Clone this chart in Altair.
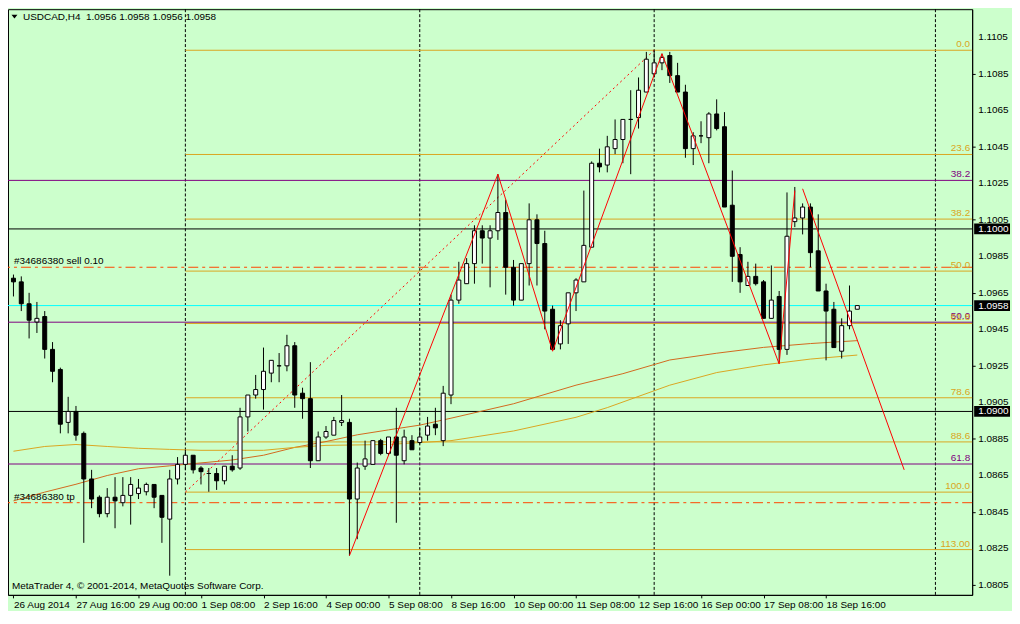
import json
import altair as alt
import pandas as pd

# ---------------- data ----------------
opens = [1.0973, 1.0971, 1.0959, 1.0949, 1.0952, 1.0934, 1.0923, 1.0894, 1.0900, 1.0888,
         1.0863, 1.0853, 1.0844, 1.0853, 1.0850, 1.0854, 1.0855, 1.0856, 1.0860, 1.0854,
         1.0841, 1.0863, 1.0871, 1.0876, 1.0869, 1.0866, 1.0866, 1.0862, 1.0870, 1.0869,
         1.0897, 1.0909, 1.0912, 1.0921, 1.0925, 1.0925, 1.0936, 1.0910, 1.0907, 1.0873,
         1.0886, 1.0887, 1.0894, 1.0894, 1.0852, 1.0870, 1.0871, 1.0884, 1.0877, 1.0886,
         1.0873, 1.0884, 1.0883, 1.0887, 1.0893, 1.0884, 1.0909, 1.0961, 1.0970, 1.0981,
         1.0999, 1.0995, 1.0999, 1.1009, 1.0979, 1.0961, 1.0981, 1.1005, 1.0992, 1.0956,
         1.0937, 1.0948, 1.0965, 1.0971, 1.0990, 1.1036, 1.1035, 1.1044, 1.1049, 1.1060,
         1.1061, 1.1075, 1.1085, 1.1091, 1.1095, 1.1084, 1.1075, 1.1044, 1.1051, 1.1050,
         1.1063, 1.1056, 1.1013, 1.0986, 1.0969, 1.0974, 1.0971, 1.0951, 1.0963, 1.0934,
         1.1004, 1.1006, 1.1012, 1.0988, 1.0966, 1.0956, 1.0933, 1.0947, 1.0956]
highs = [1.0975, 1.0974, 1.0965, 1.0960, 1.0955, 1.0938, 1.0924, 1.0908, 1.0903, 1.0889,
         1.0868, 1.0854, 1.0858, 1.0864, 1.0864, 1.0864, 1.0863, 1.0861, 1.0860, 1.0854,
         1.0868, 1.0875, 1.0879, 1.0876, 1.0870, 1.0869, 1.0869, 1.0870, 1.0876, 1.0902,
         1.0909, 1.0920, 1.0935, 1.0928, 1.0932, 1.0942, 1.0938, 1.0913, 1.0927, 1.0889,
         1.0892, 1.0897, 1.0909, 1.0896, 1.0872, 1.0884, 1.0884, 1.0885, 1.0886, 1.0902,
         1.0890, 1.0887, 1.0891, 1.0897, 1.0902, 1.0914, 1.0964, 1.0982, 1.0984, 1.1002,
         1.1002, 1.1002, 1.1030, 1.1016, 1.0983, 1.0981, 1.1014, 1.1008, 1.0999, 1.0958,
         1.0950, 1.0965, 1.0973, 1.1021, 1.1037, 1.1044, 1.1051, 1.1060, 1.1060, 1.1076,
         1.1083, 1.1097, 1.1098, 1.1096, 1.1097, 1.1091, 1.1079, 1.1053, 1.1059, 1.1064,
         1.1071, 1.1064, 1.1032, 1.0990, 1.0982, 1.0981, 1.0972, 1.0980, 1.0966, 1.1020,
         1.1023, 1.1014, 1.1014, 1.1008, 1.0970, 1.0960, 1.0951, 1.0969, 1.0958]
lows = [1.0963, 1.0955, 1.0940, 1.0943, 1.0929, 1.0916, 1.0888, 1.0888, 1.0884, 1.0828,
        1.0847, 1.0842, 1.0842, 1.0836, 1.0848, 1.0838, 1.0852, 1.0854, 1.0847, 1.0828,
        1.0810, 1.0860, 1.0868, 1.0866, 1.0860, 1.0856, 1.0857, 1.0860, 1.0867, 1.0868,
        1.0889, 1.0907, 1.0901, 1.0916, 1.0916, 1.0922, 1.0902, 1.0896, 1.0869, 1.0873,
        1.0885, 1.0887, 1.0892, 1.0821, 1.0830, 1.0868, 1.0871, 1.0876, 1.0876, 1.0839,
        1.0871, 1.0879, 1.0882, 1.0884, 1.0887, 1.0881, 1.0904, 1.0959, 1.0970, 1.0970,
        1.0981, 1.0968, 1.0994, 1.0964, 1.0958, 1.0961, 1.0969, 1.0969, 1.0945, 1.0934,
        1.0934, 1.0937, 1.0955, 1.0971, 1.0990, 1.1031, 1.1031, 1.1041, 1.1036, 1.1030,
        1.1055, 1.1075, 1.1083, 1.1087, 1.1080, 1.1075, 1.1039, 1.1035, 1.1047, 1.1036,
        1.1054, 1.1012, 1.0971, 1.0965, 1.0969, 1.0969, 1.0951, 1.0951, 1.0927, 1.0931,
        1.1001, 1.0997, 1.0979, 1.0966, 1.0928, 1.0935, 1.0929, 1.0945, 1.0956]
closes = [1.0971, 1.0959, 1.0950, 1.0951, 1.0934, 1.0922, 1.0893, 1.0900, 1.0887, 1.0863,
          1.0852, 1.0844, 1.0853, 1.0851, 1.0854, 1.0860, 1.0858, 1.0860, 1.0853, 1.0842,
          1.0863, 1.0871, 1.0876, 1.0868, 1.0867, 1.0866, 1.0862, 1.0870, 1.0868, 1.0897,
          1.0909, 1.0912, 1.0922, 1.0928, 1.0925, 1.0936, 1.0909, 1.0907, 1.0873, 1.0886,
          1.0889, 1.0895, 1.0895, 1.0852, 1.0869, 1.0874, 1.0884, 1.0877, 1.0886, 1.0876,
          1.0886, 1.0879, 1.0886, 1.0892, 1.0891, 1.0910, 1.0961, 1.0972, 1.0981, 1.0999,
          1.0995, 1.0999, 1.1009, 1.0979, 1.0961, 1.0981, 1.1005, 1.0992, 1.0955, 1.0934,
          1.0947, 1.0965, 1.0972, 1.0991, 1.1036, 1.1034, 1.1045, 1.1049, 1.1060, 1.1060,
          1.1076, 1.1093, 1.1091, 1.1094, 1.1084, 1.1075, 1.1044, 1.1051, 1.1051, 1.1063,
          1.1055, 1.1012, 1.0985, 1.0971, 1.0974, 1.0970, 1.0951, 1.0961, 1.0934, 1.0996,
          1.1006, 1.1012, 1.0987, 1.0966, 1.0955, 1.0935, 1.0947, 1.0955, 1.0958]

x_tick_bars = [0, 8, 16, 24, 32, 40, 48, 56, 64, 72, 80, 88, 96, 104]
x_tick_labels = ["26 Aug 2014", "27 Aug 16:00", "29 Aug 00:00", "1 Sep 08:00", "2 Sep 16:00",
                 "4 Sep 00:00", "5 Sep 08:00", "8 Sep 16:00", "10 Sep 00:00", "11 Sep 08:00",
                 "12 Sep 16:00", "16 Sep 00:00", "17 Sep 08:00", "18 Sep 16:00"]
y_tick_values = [1.0805, 1.0825, 1.0845, 1.0865, 1.0885, 1.0905, 1.0925, 1.0945,
                 1.0965, 1.0985, 1.1005, 1.1025, 1.1045, 1.1065, 1.1085, 1.1105]
y_tick_labels = ["1.0805", "1.0825", "1.0845", "1.0865", "1.0885", "1.0905", "1.0925", "1.0945",
                 "1.0965", "1.0985", "1.1005", "1.1025", "1.1045", "1.1065", "1.1085", "1.1105"]

week_separator_bars = [22, 52, 82, 118]

ma_fast_bars = [0, 4, 8, 12, 16, 20, 24, 28, 32, 36, 40, 44, 48, 52, 56, 64, 72, 78, 84, 90, 96, 102, 108]
ma_fast_vals = [1.08510, 1.08558, 1.08601, 1.08649, 1.08686, 1.08702, 1.08718, 1.08734, 1.08760,
                1.08803, 1.08835, 1.08872, 1.08899, 1.08925, 1.08963, 1.09042, 1.09144, 1.09207,
                1.09282, 1.09319, 1.09351, 1.09372, 1.09388]
ma_slow_bars = [0, 4, 8, 12, 16, 20, 24, 32, 36, 40, 48, 56, 64, 72, 76, 84, 90, 96, 102, 108]
ma_slow_vals = [1.08782, 1.08808, 1.08819, 1.08808, 1.08798, 1.08792, 1.08787, 1.08787, 1.08803,
                1.08814, 1.08819, 1.08840, 1.08893, 1.08968, 1.09021, 1.09144, 1.09213, 1.09255,
                1.09287, 1.09309]

zigzag_bars = [43, 62, 69, 83, 98, 100]
zigzag_vals = [1.0821, 1.1030, 1.0933, 1.1096, 1.0926, 1.1021]
trend_bars = [101, 114]
trend_vals = [1.1022, 1.0868]
fibo_diag_bars = [22, 82]
fibo_diag_vals = [1.08558, 1.10979]

fibo_orange_levels = ["0.0", "23.6", "38.2", "50.0", "61.8", "78.6", "88.6", "100.0", "113.00"]
fibo_orange_prices = [1.10979, 1.10408, 1.10054, 1.09769, 1.09482, 1.09075, 1.08833, 1.08558, 1.08243]
fibo_purple_levels = ["38.2", "50.0", "61.8"]
fibo_purple_prices = [1.10266, 1.09489, 1.08712]

order_labels = ["#34686380 sell 0.10", "#34686380 tp"]
order_prices = [1.0979, 1.0850]
black_levels = [1.1000, 1.0900]
bid_price = [1.0958]
box_prices = [1.1000, 1.0958, 1.0900]
box_labels = ["1.1000", "1.0958", "1.0900"]

title_text = "USDCAD,H4\u00a0 1.0956 1.0958 1.0956 1.0958"
copyright_text = "MetaTrader 4, \u00a9 2001-2014, MetaQuotes Software Corp."

# ---------------- chart ----------------
FONT = "Liberation Sans"
W, H = 968, 588
BG = "#CCFFCC"
ORANGE = "#DAA520"
PURPLE = "#800080"
RED = "#FF0000"
ORDER_RED = "#FF4500"

xs = alt.Scale(domain=[-0.0625, 122.0625], nice=False, zero=False)
ys = alt.Scale(domain=[1.07995, 1.11204], nice=False, zero=False)

label_expr = json.dumps(x_tick_labels) + "[round(datum.value / 8)]"
x_axis = alt.Axis(values=x_tick_bars, labelExpr=label_expr, tickSize=3, tickColor="black",
                  domainColor="black", labelColor="black", labelFont=FONT, labelFontSize=10,
                  labelAlign="left", labelPadding=2, labelBaseline="top",
                  labelOverlap=False, labelFlush=False, grid=False, title=None)
# ticks of the price axis come from the axis; its labels are drawn as a text layer below
y_axis = alt.Axis(orient="right", values=y_tick_values, tickSize=3, tickColor="black",
                  domainColor="black", labels=False, grid=False, title=None)

df = pd.DataFrame({"bar": list(range(len(opens))), "open": opens, "high": highs,
                   "low": lows, "close": closes})
df["top"] = df[["open", "close"]].max(axis=1)
df["bot"] = df[["open", "close"]].min(axis=1)
df["dir"] = ["up" if c > o else ("down" if c < o else "doji") for o, c in zip(opens, closes)]

one = pd.DataFrame({"k": [0]})

base_rule = alt.Chart(pd.DataFrame({"bar": week_separator_bars})).mark_rule(
    color="black", strokeWidth=1, strokeDash=[3, 2]
).encode(x=alt.X("bar:Q", scale=xs, axis=x_axis))

purple_df = pd.DataFrame({"price": fibo_purple_prices, "label": fibo_purple_levels})
purple_lines = alt.Chart(purple_df).mark_rule(color=PURPLE, strokeWidth=1).encode(
    y=alt.Y("price:Q", scale=ys, axis=y_axis))
purple_text = alt.Chart(purple_df).mark_text(
    color=PURPLE, font=FONT, fontSize=10, align="right", baseline="alphabetic", dy=-3
).encode(x=alt.value(W - 2), y=alt.Y("price:Q", scale=ys), text="label:N")

orange_df = pd.DataFrame({"price": fibo_orange_prices, "label": fibo_orange_levels,
                          "start": [fibo_diag_bars[0]] * len(fibo_orange_prices)})
orange_lines = alt.Chart(orange_df).mark_rule(color=ORANGE, strokeWidth=1).encode(
    x=alt.X("start:Q", scale=xs), x2=alt.value(W), y=alt.Y("price:Q", scale=ys))
orange_text = alt.Chart(orange_df).mark_text(
    color=ORANGE, font=FONT, fontSize=10, align="right", baseline="alphabetic", dy=-3
).encode(x=alt.value(W - 2), y=alt.Y("price:Q", scale=ys), text="label:N")

black_lines = alt.Chart(pd.DataFrame({"price": black_levels})).mark_rule(
    color="black", strokeWidth=1).encode(y=alt.Y("price:Q", scale=ys))
bid_line = alt.Chart(pd.DataFrame({"price": bid_price})).mark_rule(
    color="#00FFFF", strokeWidth=1).encode(y=alt.Y("price:Q", scale=ys))

order_df = pd.DataFrame({"price": order_prices, "label": order_labels})
order_lines = alt.Chart(order_df).mark_rule(
    color=ORDER_RED, strokeWidth=1, strokeDash=[10, 4, 3, 4]).encode(y=alt.Y("price:Q", scale=ys))
order_text = alt.Chart(order_df).mark_text(
    color="black", font=FONT, fontSize=10, align="left", baseline="alphabetic", dy=-3
).encode(x=alt.value(6), y=alt.Y("price:Q", scale=ys), text="label:N")

fibo_diag = alt.Chart(pd.DataFrame({"bar": fibo_diag_bars, "price": fibo_diag_vals})).mark_line(
    color=RED, strokeWidth=1, strokeDash=[2, 3]).encode(
    x=alt.X("bar:Q", scale=xs), y=alt.Y("price:Q", scale=ys))

ma_fast = alt.Chart(pd.DataFrame({"bar": ma_fast_bars, "price": ma_fast_vals})).mark_line(
    color="#D2691E", strokeWidth=1, clip=True).encode(
    x=alt.X("bar:Q", scale=xs), y=alt.Y("price:Q", scale=ys))
ma_slow = alt.Chart(pd.DataFrame({"bar": ma_slow_bars, "price": ma_slow_vals})).mark_line(
    color=ORANGE, strokeWidth=1, clip=True).encode(
    x=alt.X("bar:Q", scale=xs), y=alt.Y("price:Q", scale=ys))

wicks = alt.Chart(df).mark_rule(color="black", strokeWidth=1, clip=True).encode(
    x=alt.X("bar:Q", scale=xs), y=alt.Y("low:Q", scale=ys), y2="high:Q")
bodies = alt.Chart(df).mark_bar(size=4, stroke="black", strokeWidth=1, clip=True).encode(
    x=alt.X("bar:Q", scale=xs), y=alt.Y("bot:Q", scale=ys), y2="top:Q",
    fill=alt.Fill("dir:N", scale=alt.Scale(domain=["up", "down", "doji"],
                                           range=["white", "black", "black"]), legend=None))

zigzag = alt.Chart(pd.DataFrame({"bar": zigzag_bars, "price": zigzag_vals})).mark_line(
    color=RED, strokeWidth=1).encode(x=alt.X("bar:Q", scale=xs), y=alt.Y("price:Q", scale=ys))
trend = alt.Chart(pd.DataFrame({"bar": trend_bars, "price": trend_vals})).mark_line(
    color=RED, strokeWidth=1).encode(x=alt.X("bar:Q", scale=xs), y=alt.Y("price:Q", scale=ys))

price_labels = alt.Chart(pd.DataFrame({"price": y_tick_values, "label": y_tick_labels})).mark_text(
    color="black", font=FONT, fontSize=10, align="left", baseline="middle"
).encode(x=alt.value(W + 6), y=alt.Y("price:Q", scale=ys), text="label:N")

box_df = pd.DataFrame({"price": box_prices, "label": box_labels})
boxes = alt.Chart(box_df).mark_point(
    shape="M-1,-0.3L1,-0.3L1,0.3L-1,0.3Z", filled=True, color="black", opacity=1, size=1296
).encode(x=alt.value(W + 20), y=alt.Y("price:Q", scale=ys))
box_text = alt.Chart(box_df).mark_text(
    color="white", font=FONT, fontSize=10, align="left", baseline="middle"
).encode(x=alt.value(W + 6), y=alt.Y("price:Q", scale=ys), text="label:N")

title_mark = alt.Chart(one).mark_text(
    text=title_text, color="black", font=FONT, fontSize=10, align="left", baseline="alphabetic"
).encode(x=alt.value(15), y=alt.value(11))
triangle = alt.Chart(one).mark_point(
    shape="M-1,-0.6L1,-0.6L0,0.6Z", filled=True, color="black", opacity=1, size=36
).encode(x=alt.value(6.5), y=alt.value(7.5))
copyright_mark = alt.Chart(one).mark_text(
    text=copyright_text, color="black", font=FONT, fontSize=10, align="left", baseline="alphabetic"
).encode(x=alt.value(4), y=alt.value(H - 5.5))

chart = alt.layer(
    base_rule, purple_lines, orange_lines, black_lines, bid_line, order_lines, fibo_diag,
    ma_fast, ma_slow, wicks, bodies, zigzag, trend,
    purple_text, orange_text, order_text, price_labels, boxes, box_text,
    title_mark, triangle, copyright_mark
).properties(
    width=W, height=H, background=BG,
    autosize=alt.AutoSizeParams(type="none"),
    padding={"left": 0, "top": 0, "right": 40, "bottom": 15}
).configure_view(
    fill=BG, stroke="black", strokeWidth=1
)

chart.save("out.html", embed_options={"renderer": "svg", "actions": False})
